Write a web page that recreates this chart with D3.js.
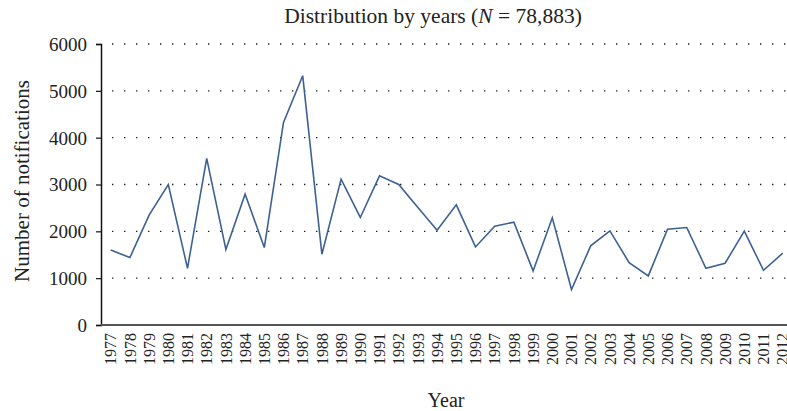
<!DOCTYPE html>
<html>
<head>
<meta charset="utf-8">
<script src="https://cdn.jsdelivr.net/npm/d3@7"></script>
<style>
  body { margin: 0; background: #fff; }
  svg, svg text { font-family: "Liberation Serif", "DejaVu Serif", serif; }
  svg { display: block; }
</style>
</head>
<body>
<div id="chart"></div>
<script>
// data
const years = [1977, 1978, 1979, 1980, 1981, 1982, 1983, 1984, 1985, 1986, 1987, 1988,
  1989, 1990, 1991, 1992, 1993, 1994, 1995, 1996, 1997, 1998, 1999, 2000,
  2001, 2002, 2003, 2004, 2005, 2006, 2007, 2008, 2009, 2010, 2011, 2012];
const notifications = [1600, 1440, 2345, 3000, 1212, 3557, 1612, 2794, 1654, 4326, 5323, 1511,
  3114, 2296, 3185, 3001, 2510, 2024, 2565, 1667, 2110, 2195, 1155, 2288,
  756, 1690, 2010, 1333, 1048, 2046, 2082, 1212, 1319, 2003, 1169, 1533];
const yTicks = [0, 1000, 2000, 3000, 4000, 5000, 6000];

const W = 787, H = 411;
const plotLeft = 101, plotRight = 787, plotTop = 44, plotBottom = 325;

const svg = d3.select("#chart").append("svg")
  .attr("width", W).attr("height", H);

const x = d3.scaleLinear().domain([1977, 2012]).range([110.7, 782.7]);
const y = d3.scaleLinear().domain([0, 6000]).range([plotBottom, plotTop]);

// dotted gridlines
svg.append("g")
  .selectAll("line")
  .data(yTicks.filter(d => d > 0))
  .join("line")
  .attr("x1", 112).attr("x2", plotRight)
  .attr("y1", d => y(d)).attr("y2", d => y(d))
  .attr("stroke", "#222")
  .attr("stroke-width", 1.4)
  .attr("stroke-dasharray", "1.4 10.6");

// y axis
const yAxis = svg.append("g")
  .attr("transform", "translate(" + plotLeft + ",0)")
  .call(d3.axisLeft(y).tickValues(yTicks).tickSize(5).tickPadding(9).tickFormat(d3.format("d")));
yAxis.attr("font-family", null).attr("font-size", null);
yAxis.select(".domain").attr("stroke", "#111").attr("stroke-width", 1.5);
yAxis.selectAll(".tick line").attr("stroke", "#111").attr("stroke-width", 1.2);
yAxis.selectAll(".tick text")
  .attr("fill", "#222")
  .style("font-family", "'Liberation Serif', serif")
  .style("font-size", "19px")
  .attr("dy", "0.34em");

// x axis
const xAxis = svg.append("g")
  .attr("transform", "translate(0," + plotBottom + ")")
  .call(d3.axisBottom(x).tickValues(years).tickSize(0).tickFormat(d3.format("d")));
xAxis.attr("font-family", null).attr("font-size", null);
xAxis.select(".domain").remove();
svg.append("line")
  .attr("x1", plotLeft).attr("x2", plotRight)
  .attr("y1", plotBottom).attr("y2", plotBottom)
  .attr("stroke", "#555").attr("stroke-width", 2);
xAxis.selectAll(".tick text")
  .attr("fill", "#222")
  .style("font-family", "'Liberation Serif', serif")
  .style("font-size", "16px")
  .attr("text-anchor", "end")
  .attr("transform", "rotate(-90)")
  .attr("x", -8)
  .attr("y", 0)
  .attr("dy", "0.33em");

// the line
const line = d3.line()
  .x((d, i) => x(years[i]))
  .y(d => y(d));
svg.append("path")
  .datum(notifications)
  .attr("fill", "none")
  .attr("stroke", "#3d6192")
  .attr("stroke-width", 1.6)
  .attr("stroke-linejoin", "miter")
  .attr("d", line);

// title
const title = svg.append("text")
  .attr("x", 433).attr("y", 23)
  .attr("text-anchor", "middle")
  .attr("fill", "#222")
  .style("font-size", "21.5px");
title.append("tspan").text("Distribution by years (");
title.append("tspan").style("font-style", "italic").text("N");
title.append("tspan").text(" = 78,883)");

// axis titles
svg.append("text")
  .attr("transform", "translate(29,181) rotate(-90)")
  .attr("text-anchor", "middle")
  .attr("fill", "#222")
  .style("font-size", "21px")
  .text("Number of notifications");

svg.append("text")
  .attr("x", 446).attr("y", 407)
  .attr("text-anchor", "middle")
  .attr("fill", "#222")
  .style("font-size", "20px")
  .text("Year");
</script>
</body>
</html>
